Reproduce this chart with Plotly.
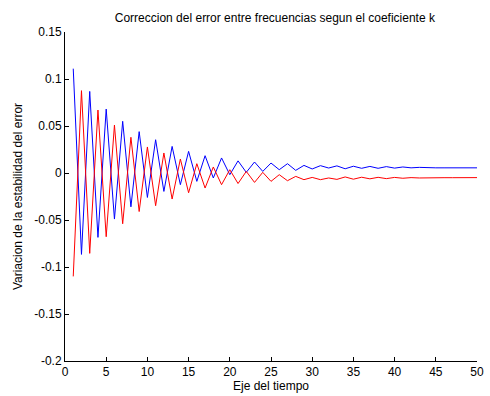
import plotly.graph_objects as go

t = list(range(1, 51))

blue = [0.111, -0.0866, 0.0868, -0.0685, 0.068, -0.049, 0.055, -0.036, 0.044, -0.026,
        0.0354, -0.0196, 0.0283, -0.0124, 0.023, -0.0089, 0.0184, -0.0053, 0.016, -0.0018,
        0.0129, 0.0007, 0.0117, 0.0017, 0.0106, 0.0035, 0.0099, 0.0028, 0.0081, 0.0043,
        0.0078, 0.0053, 0.0076, 0.0045, 0.0072, 0.0050, 0.0070, 0.0050, 0.0068, 0.0052,
        0.0064, 0.0055, 0.0060, 0.0055, 0.0055, 0.0055, 0.0055, 0.0055, 0.0055, 0.0055]

red = [-0.110, 0.0876, -0.0855, 0.067, -0.0678, 0.051, -0.054, 0.038, -0.041, 0.0277,
       -0.0348, 0.0213, -0.0277, 0.0149, -0.021, 0.0099, -0.016, 0.0064, -0.0124, 0.0035,
       -0.0112, 0.0017, -0.0100, 0.0007, -0.0089, -0.0018, -0.0082, -0.0036, -0.0071, -0.0047,
       -0.0071, -0.0053, -0.0068, -0.0042, -0.0066, -0.0045, -0.0062, -0.0046, -0.0060, -0.0047,
       -0.0056, -0.0049, -0.0053, -0.0050, -0.0050, -0.0050, -0.0050, -0.0049, -0.0049, -0.0049]

x_ticks = [0, 5, 10, 15, 20, 25, 30, 35, 40, 45, 50]
y_ticks = [0.15, 0.1, 0.05, 0, -0.05, -0.1, -0.15, -0.2]
y_ticklabels = ["0.15", "0.1", "0.05", "0", "-0.05", "-0.1", "-0.15", "-0.2"]

fig = go.Figure()
fig.add_trace(go.Scatter(x=t, y=blue, mode="lines", line=dict(color="#0000ff", width=1),
                         showlegend=False, hoverinfo="skip"))
fig.add_trace(go.Scatter(x=t, y=red, mode="lines", line=dict(color="#ff0000", width=1),
                         showlegend=False, hoverinfo="skip"))

fam = "Liberation Sans, Arial, sans-serif"
font = dict(family=fam, size=12, color="#000000")

fig.update_layout(
    width=490, height=396,
    margin=dict(l=65, r=6, t=32, b=35),
    paper_bgcolor="white", plot_bgcolor="white",
    font=font,
    title=dict(text="Correccion del error entre frecuencias segun el coeficiente k",
               x=0.5609, xanchor="center", y=0.955, yanchor="middle",
               font=dict(family=fam, size=12, color="#000000")),
    xaxis=dict(range=[0, 50], tickvals=x_ticks, ticks="inside", ticklen=4, tickcolor="#000",
               showline=True, linecolor="#000", linewidth=1, showgrid=False, zeroline=False,
               mirror=False, ticklabeloverflow="allow", tickfont=dict(family=fam, size=12),
               title=dict(text="Eje del tiempo", standoff=1, font=dict(family=fam, size=12))),
    yaxis=dict(range=[-0.2, 0.15], tickvals=y_ticks, ticktext=y_ticklabels, ticks="inside",
               ticklen=4, tickcolor="#000", showline=True, linecolor="#000", linewidth=1,
               showgrid=False, zeroline=False, mirror=False, tickfont=dict(family=fam, size=12),
               title=dict(text="Variacion de la estabilidad del error", standoff=9,
                          font=dict(family=fam, size=12))),
)

fig.write_html("out.html")
